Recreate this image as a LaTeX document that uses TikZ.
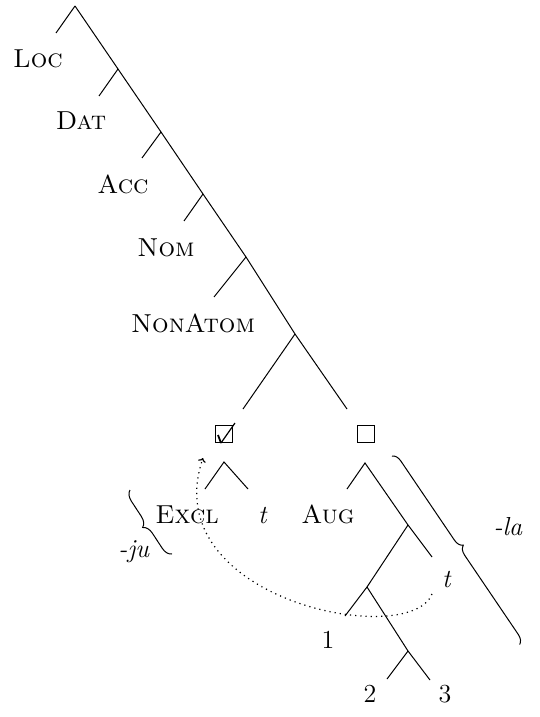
\documentclass[tikz,border=0pt]{standalone}
\usetikzlibrary{decorations.pathreplacing,arrows.meta,calc}
\begin{document}
\begin{tikzpicture}[x=0.5pt,y=-0.5pt,line width=0.5pt,
  lab/.style={font=\fontsize{13}{15}\selectfont, inner sep=0pt, anchor=base},
  boxnode/.style={draw, line width=0.75pt, minimum size=8.5pt, inner sep=0pt},
  bracestyle/.style={decorate, line width=0.5pt}]
\useasboundingbox (0,0) rectangle (540,717);
% spine coordinates
\coordinate (r0) at (75,6);
\coordinate (l0) at (56,33);
\coordinate (r1) at (118,69);
\coordinate (l1) at (99,96);
\coordinate (r2) at (161,132);
\coordinate (l2) at (142,158);
\coordinate (r3) at (203,194);
\coordinate (l3) at (184,221);
\coordinate (r4) at (246,257);
\coordinate (l4) at (214,297);
\coordinate (r5) at (295,334);
\coordinate (a) at (243,409);
\coordinate (b) at (347,409);
% labels
\node[lab] (loc) at (38,68) {\textsc{Loc}};
\node[lab] (dat) at (81,130) {\textsc{Dat}};
\node[lab] (acc) at (123,193) {\textsc{Acc}};
\node[lab] (nom) at (166,256) {\textsc{Nom}};
\node[lab] (nonatom) at (193,332) {\textsc{NonAtom}};
% spine
\draw (r0) -- (r1) -- (r2) -- (r3) -- (r4) -- (r5) -- (b);
\draw (r0) -- (l0);
\draw (r1) -- (l1);
\draw (r2) -- (l2);
\draw (r3) -- (l3);
\draw (r4) -- (l4);
\draw (r5) -- (a);
% boxes
\node[boxnode] (chk) at (224,434) {};
\node[boxnode] (sq) at (366,434) {};
\draw[line width=0.9pt] ($(chk)+(-6,1)$) -- ($(chk)+(-3,9)$);
\draw[line width=0.6pt] ($(chk)+(-3,9)$) -- ($(chk)+(11,-11)$);
% left subtree
\coordinate (c0) at (224,462);
\coordinate (c0l) at (205,489);
\coordinate (c0r) at (248,489);
\draw (c0l) -- (c0) -- (c0r);
\node[lab] (excl) at (187,523) {\textsc{Excl}};
\node[lab] (t1) at (263,523) {\textit{t}};
% right subtree
\coordinate (s0) at (365,463);
\coordinate (s0l) at (347,489);
\coordinate (s1) at (408,525);
\coordinate (s0r) at (432,557);
\coordinate (s2) at (367,587);
\coordinate (s1l) at (345,616);
\coordinate (s3) at (408,651);
\coordinate (s2r) at (430,680);
\coordinate (s3l) at (387,679);
\draw (s0l) -- (s0) -- (s1) -- (s0r);
\draw (s1) -- (s2) -- (s1l);
\draw (s2) -- (s3) -- (s2r);
\draw (s3) -- (s3l);
\node[lab] (aug) at (328,523) {\textsc{Aug}};
\node[lab] (t2) at (447,587) {\textit{t}};
\node[lab] (one) at (328,648) {1};
\node[lab] (two) at (370,702) {2};
\node[lab] (three) at (445,702) {3};
% braces
\coordinate (las) at (392,456);
\coordinate (lae) at (520,645);
\draw[bracestyle, decoration={brace, amplitude=4.5pt}] (las) -- (lae);
\node[lab] (la) at (508,535) {\textit{-la}};
\coordinate (jus) at (130,490);
\coordinate (jue) at (172,554);
\draw[bracestyle, decoration={brace, amplitude=5pt, mirror}] (jus) -- (jue);
\node[lab] (ju) at (134,557) {\textit{-ju}};
% movement
\coordinate (mvs) at (432,594);
\coordinate (mve) at (203,458);
\draw[dotted, line width=0.6pt, -{To[length=2pt,width=4pt]}] (mvs) .. controls (410,650) and (155,600) .. (mve);
\end{tikzpicture}
\end{document}
